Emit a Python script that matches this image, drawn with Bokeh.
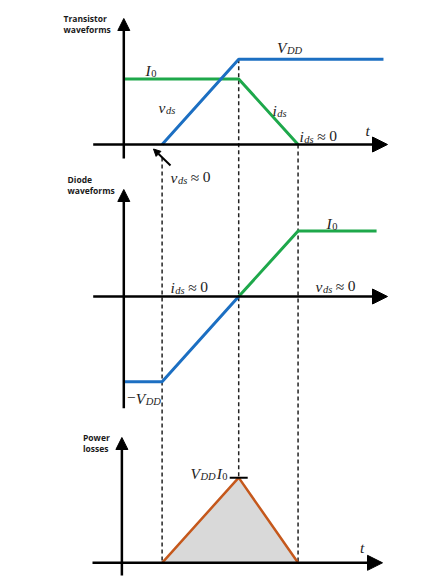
from bokeh.plotting import figure
from bokeh.models import Range1d, Arrow, NormalHead, Label
from bokeh.embed import file_html
from bokeh.resources import INLINE

# ---------------- data ----------------
# switching instants (arbitrary time units): origin, vds starts rising, vds reaches VDD, ids reaches 0
t_switch = [0.0, 1.0, 3.0, 4.55]
I0 = 1.0
VDD = 1.3

# transistor waveforms
tr_vds_t = [1.0, 3.0, 6.78]
tr_vds_v = [0.0, 1.3, 1.3]
tr_ids_t = [0.0, 3.0, 4.55]
tr_ids_v = [1.0, 1.0, 0.0]

# diode waveforms
di_vd_t = [0.0, 1.0, 3.0]
di_vd_v = [-1.3, -1.3, 0.0]
di_id_t = [3.0, 4.55, 6.6]
di_id_v = [0.0, 1.0, 1.0]

# power losses (vds * ids at the breakpoints)
pl_t = [1.0, 3.0, 4.55]
pl_v = [0.0, 1.3, 0.0]

panel_titles = [["Transistor", "waveforms"], ["Diode", "waveforms"], ["Power", "losses"]]

# ---------------- layout ----------------
W, H = 441, 588
UX = 38.3          # px per time unit
UY = 65.5          # px per value unit
ORIGIN_X = 123.3   # page px of t = 0
PAGE_BOTTOM = 588  # page px of frame bottom
base_px = [144, 296, 562.3]
B = [(PAGE_BOTTOM - b) / UY for b in base_px]

BLUE = "#1c6fc2"
GREEN = "#1ea84b"
ORANGE = "#c5581c"
GREY = "#d9d9d9"
TXT = "#1e1e1e"

p = figure(width=W, height=H, output_backend="svg", toolbar_location=None,
           x_axis_location=None, y_axis_location=None, min_border=0,
           x_range=Range1d(-ORIGIN_X / UX, (W - ORIGIN_X) / UX),
           y_range=Range1d(0, H / UY))
p.grid.visible = False
p.outline_line_color = None
p.background_fill_color = "white"


def tx(px):  # page px -> time units
    return (px - ORIGIN_X) / UX


def yy(py):  # page px -> data y
    return (PAGE_BOTTOM - py) / UY


T1, T2, T3 = t_switch[1], t_switch[2], t_switch[3]

# ---------------- dashed guides ----------------
p.segment(x0=[T1, T2, T3], x1=[T1, T2, T3],
          y0=[B[0] - 13 / UY, B[0] + VDD, B[0]],
          y1=[B[2], B[2] + VDD * I0, B[2]],
          line_color="#222222", line_width=1.5, line_dash="4 3")


# ---------------- axes (arrows) ----------------
def axis_arrow(x0, y0, x1, y1, size):
    p.add_layout(Arrow(end=NormalHead(size=size, fill_color="black", line_color="black"),
                       x_start=x0, y_start=y0, x_end=x1, y_end=y1,
                       line_color="black", line_width=2.5))


# horizontal time axes
axis_arrow(tx(92.7), B[0], tx(387), B[0], 15)
axis_arrow(tx(92.7), B[1], tx(387), B[1], 15)
axis_arrow(tx(92.0), B[2], tx(382), B[2], 15)
# vertical axes
axis_arrow(0, yy(158), 0, yy(18), 12)
axis_arrow(0, yy(407.7), 0, yy(189), 12)
axis_arrow(-0.05, yy(575), -0.05, yy(437), 12)

# ---------------- waveforms ----------------
p.line(tr_ids_t, [B[0] + v for v in tr_ids_v], line_color=GREEN, line_width=3)
p.line(tr_vds_t, [B[0] + v for v in tr_vds_v], line_color=BLUE, line_width=3)

p.line(di_vd_t, [B[1] + v for v in di_vd_v], line_color=BLUE, line_width=3)
p.line(di_id_t, [B[1] + v for v in di_id_v], line_color=GREEN, line_width=3)

p.patch(pl_t, [B[2] + v for v in pl_v], fill_color=GREY, line_color=None)
p.line(pl_t, [B[2] + v for v in pl_v], line_color=ORANGE, line_width=2.5)
# peak marker
p.segment(x0=[T2 - 9 / UX], x1=[T2 + 9 / UX], y0=[B[2] + VDD * I0], y1=[B[2] + VDD * I0],
          line_color="black", line_width=2)

# pointer arrow for vds ~ 0
p.add_layout(Arrow(end=NormalHead(size=7, fill_color="black", line_color="black"),
                   x_start=tx(170), y_start=yy(165),
                   x_end=tx(153), y_end=yy(148.5),
                   line_color="black", line_width=2))

# ---------------- math labels ----------------
ITAL = {'V': 0.611, 'I': 0.333, 'D': 0.722, 'd': 0.5, 's': 0.389, 'v': 0.444, 'i': 0.278, 't': 0.278}
NORM = {'0': 0.5, '\u2248': 0.549, '\u2212': 0.564}
MAIN, SUB = 15.5, 10.5


def width(txt, size, italic):
    tab = ITAL if italic else NORM
    return sum(tab.get(c, 0.5) for c in txt) * size


def mlabel(px, py, parts):
    """px, py: page px of left edge / baseline; parts: (text, size, italic, drop_px, gap_before_px)"""
    x = px
    for txt, size, italic, drop, gap in parts:
        x += gap
        p.add_layout(Label(x=tx(x), y=yy(py + drop), text=txt,
                           text_font="Liberation Serif", text_font_size=f"{size}px",
                           text_font_style="italic" if italic else "normal",
                           text_color=TXT, text_align="left", text_baseline="alphabetic"))
        x += width(txt, size, italic) + (0.5 if italic and size == MAIN else 0)


I0_parts = [("I", MAIN, True, 0, 0), ("0", SUB, False, 3, 0)]
VDD_parts = [("V", MAIN, True, 0, 0), ("DD", SUB, True, 3, 0)]
vds_parts = [("v", MAIN, True, 0, 0), ("ds", SUB, True, 3, 0)]
ids_parts = [("i", MAIN, True, 0, 0), ("ds", SUB, True, 3, 0)]
approx0 = [("\u2248", MAIN, False, 0, 3.5), ("0", MAIN, False, 0, 3.5)]

# transistor panel
mlabel(145, 70, I0_parts)
mlabel(276.5, 47, VDD_parts)
mlabel(158, 106.5, vds_parts)
mlabel(272, 109.5, ids_parts)
mlabel(299, 135.5, ids_parts + approx0)
mlabel(365, 130, [("t", MAIN, True, 0, 0)])
mlabel(170, 176.5, vds_parts + approx0)
# diode panel
mlabel(326, 222.5, I0_parts)
mlabel(170, 286.5, ids_parts + approx0)
mlabel(315, 285.5, vds_parts + approx0)
mlabel(126.5, 397.5, [("\u2212", MAIN, False, 0, 0)] + VDD_parts)
# power panel
mlabel(190, 472.5, VDD_parts + [("I", MAIN, True, 0, 1)] + I0_parts[1:])
mlabel(359.5, 546.5, [("t", MAIN, True, 0, 0)])

# ---------------- panel titles ----------------
title_pos = [(63, 18), (67, 179), (82.5, 436.5)]
for (lx, ly), lines in zip(title_pos, panel_titles):
    for k, line in enumerate(lines):
        p.add_layout(Label(x=tx(lx), y=yy(ly + 11.3 * k), text=line,
                           text_font="Open Sans", text_font_size="8.5px", text_font_style="bold",
                           text_color="#1a1a1a", text_align="left", text_baseline="alphabetic"))

open("out.html", "w").write(file_html(p, INLINE))
